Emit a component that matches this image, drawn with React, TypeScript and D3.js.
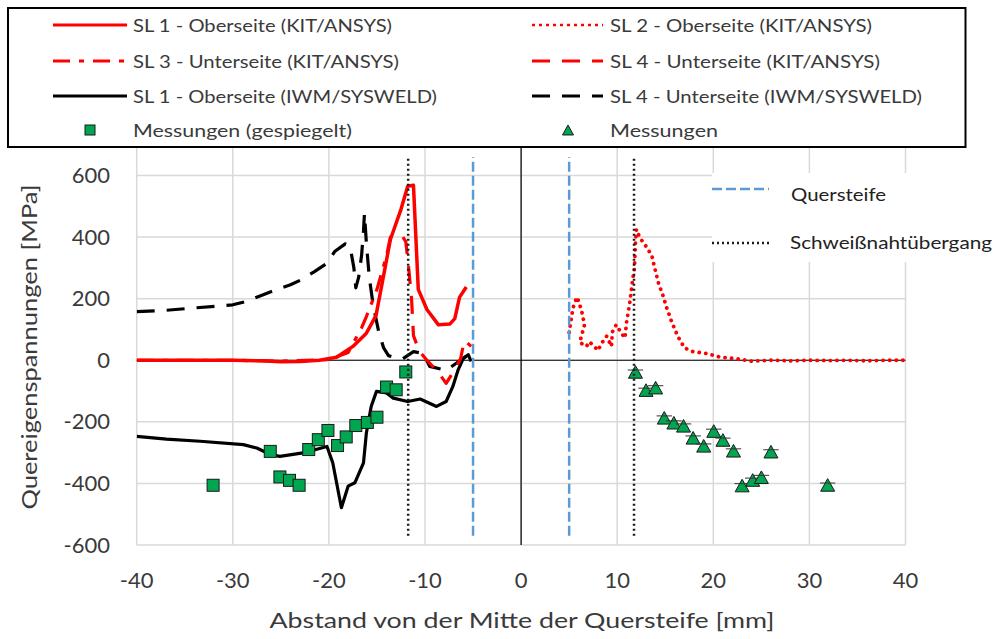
import React from "react";
import * as d3 from "d3";

type Pt = [number, number];

// x ticks [mm] and y ticks [MPa]
const xTickValues: number[] = [-40, -30, -20, -10, 0, 10, 20, 30, 40];
const yTickValues: number[] = [-600, -400, -200, 0, 200, 400, 600];

// SL 1 - Oberseite (KIT/ANSYS)
const sl1Kit: Pt[] = [
  [-40, 0], [-35, 0], [-30, 0], [-27, -2], [-25, -5], [-23, -4], [-21, 0],
  [-19.2, 10], [-17.5, 45], [-16.1, 88], [-15.1, 145], [-14.4, 260], [-13.6, 392],
  [-12.5, 490], [-11.8, 565], [-11.2, 568], [-10.7, 230], [-9.8, 165], [-8.6, 115],
  [-7.4, 118], [-6.9, 135], [-6.4, 205], [-5.7, 238],
];

// SL 2 - Oberseite (KIT/ANSYS)
const sl2Kit: Pt[] = [
  [5.0, 90], [5.15, 120], [5.4, 170], [5.8, 205], [6.0, 190], [6.3, 160], [6.6, 115],
  [6.1, 58], [6.8, 45], [7.1, 60], [7.6, 45], [8.0, 32], [8.4, 56], [8.9, 78],
  [9.4, 45], [9.5, 92], [9.9, 115], [10.4, 90], [10.8, 72], [11.0, 130], [11.3, 185],
  [11.6, 260], [11.8, 300], [11.9, 380], [12.0, 425], [12.35, 398], [12.9, 375],
  [13.4, 350], [13.6, 340], [13.9, 300], [14.3, 250], [14.8, 207], [15.1, 175],
  [15.65, 126], [16.3, 78], [17.0, 40], [17.9, 28], [19.3, 22], [20.7, 10], [22.4, 5],
  [24, -3], [26, 0], [28, -2], [30, 0], [32, -1], [34, 0], [36, -2], [38, 0], [40, 0],
];

// SL 3 - Unterseite (KIT/ANSYS)
const sl3Kit: Pt[] = [
  [-40, 0], [-30, 0], [-25, -3], [-20, 2], [-18, 25], [-16.6, 105], [-16.1, 142],
  [-15, 230], [-14, 340], [-13.6, 400], [-12.6, 402],
];

// SL 4 - Unterseite (KIT/ANSYS)
const sl4Kit: Pt[] = [
  [-12.3, 400], [-12.0, 385], [-11.7, 300], [-11.4, 200], [-11.2, 80], [-10.6, 30],
  [-9.8, 0], [-8.6, -40], [-7.8, -75], [-7.0, -35], [-6.3, 5], [-5.9, 65], [-5.2, 45],
];

// SL 1 - Oberseite (IWM/SYSWELD)
const sl1Iwm: Pt[] = [
  [-40, -247], [-36.9, -256], [-33.4, -263], [-28.9, -274], [-27.5, -285], [-26.1, -306],
  [-25.1, -312], [-22.7, -301], [-20.2, -280], [-19.6, -333], [-18.7, -479], [-18.0, -409],
  [-17.3, -398], [-16.4, -333], [-16.1, -236], [-15.6, -150], [-15.05, -101], [-14.0, -106],
  [-13.3, -123], [-11.8, -134], [-10.5, -126], [-8.8, -150], [-7.8, -134], [-7.1, -85],
  [-6.55, -31], [-6.0, 7], [-5.5, 18], [-5.2, -4],
];

// SL 4 - Unterseite (IWM/SYSWELD)
const sl4Iwm: Pt[] = [
  [-40, 158], [-37, 162], [-34, 170], [-31.5, 176], [-30, 180], [-28.6, 191],
  [-26.9, 212], [-25.6, 228], [-24, 245], [-22.9, 261], [-21.5, 288], [-20.2, 315],
  [-19.4, 353], [-18.3, 378], [-17.8, 370], [-17.4, 300], [-17.2, 235], [-16.9, 270],
  [-16.6, 340], [-16.4, 420], [-16.3, 477], [-16.1, 380], [-15.8, 270], [-15.4, 180],
  [-14.8, 90], [-14.3, 40], [-13.8, 15], [-13.0, 8], [-12.3, 5], [-11.2, 28], [-10.2, 22],
  [-9.5, -20], [-7.8, -33], [-6.3, 0], [-5.6, 15], [-5.0, 0],
];

// Messungen (gespiegelt)
const measMirroredX: number[] = [-32.05, -26.1, -25.1, -24.1, -23.1, -22.1, -21.1, -20.1, -19.1, -18.2, -17.2, -16.0, -15.0, -14.0, -13.0, -12.0];
const measMirroredY: number[] = [-406, -296, -379, -390, -406, -290, -258, -228, -277, -249, -212, -202, -185, -87, -96, -38];

// Messungen
const measX: number[] = [11.9, 13.0, 14.0, 14.9, 15.9, 16.9, 17.9, 19.0, 20.05, 21.0, 22.1, 23.0, 24.1, 25.0, 26.0, 31.9];
const measY: number[] = [-42, -101, -93, -191, -207, -217, -256, -282, -234, -263, -298, -411, -393, -384, -301, -409];

// Quersteife and Schweißnahtübergang positions [mm]
const quersteifeX: number[] = [-5, 5];
const nahtX: number[] = [-11.75, 11.75];
const refLineY: [number, number] = [-570, 660];

const FONT = "Lato, 'Open Sans', sans-serif";
const TEXT = "#3a3a3a";
const RED = "#ff0000";
const GREEN = "#00a650";
const BLUE = "#5b9bd5";

const x = d3.scaleLinear().domain([-40, 40]).range([136.7, 905.5]);
const y = d3.scaleLinear().domain([-600, 700]).range([545, 144.7]);

const line = d3.line<Pt>().x((d) => x(d[0])).y((d) => y(d[1]));

const zip = (xs: number[], ys: number[]): Pt[] => xs.map((v, i) => [v, ys[i]]);

function Triangle({ cx, cy, s, bar }: { cx: number; cy: number; s: number; bar?: boolean }) {
  const h = s * 0.9;
  return (
    <g>
      <path
        d={`M${cx},${cy - h * 0.6} L${cx + s / 2},${cy + h * 0.4} L${cx - s / 2},${cy + h * 0.4} Z`}
        fill={GREEN}
        stroke="#1a1a1a"
        strokeWidth={1}
      />
      {bar && <line x1={cx - s * 0.55} x2={cx + s * 0.55} y1={cy - h * 0.25} y2={cy - h * 0.25} stroke="#333" strokeWidth={1} />}
    </g>
  );
}

const legendLeft = [
  { label: "SL 1 - Oberseite (KIT/ANSYS)", len: 259, stroke: RED, dash: undefined as string | undefined, kind: "line" },
  { label: "SL 3 - Unterseite (KIT/ANSYS)", len: 266, stroke: RED, dash: "17 9 5 9", kind: "line" },
  { label: "SL 1 - Oberseite (IWM/SYSWELD)", len: 304, stroke: "#000", dash: undefined, kind: "line" },
  { label: "Messungen (gespiegelt)", len: 219, stroke: "", dash: undefined, kind: "square" },
];
const legendRight = [
  { label: "SL 2 - Oberseite (KIT/ANSYS)", len: 262, stroke: RED, dash: "3 4", kind: "line" },
  { label: "SL 4 - Unterseite (KIT/ANSYS)", len: 270, stroke: RED, dash: "18 12", kind: "line" },
  { label: "SL 4 - Unterseite (IWM/SYSWELD)", len: 312, stroke: "#000", dash: "18 12", kind: "line" },
  { label: "Messungen", len: 108, stroke: "", dash: undefined, kind: "triangle" },
];
const legendRows = [25, 61, 96, 130];

export default function App() {
  const [x0, x1] = x.range();
  const [yb, yt] = y.range();
  return (
    <svg
      width={997}
      height={639}
      style={{ position: "absolute", left: 0, top: 0, background: "#fff" }}
      fontFamily={FONT}
    >
      <defs>
        <clipPath id="plotClip">
          <rect x={x0} y={yt} width={x1 - x0} height={yb - yt} />
        </clipPath>
      </defs>
      <rect x={0} y={0} width={997} height={639} fill="#fff" />

      {/* gridlines */}
      {xTickValues.map((t) => (
        <line key={`gx${t}`} x1={x(t)} x2={x(t)} y1={yt} y2={yb} stroke="#d9d9d9" strokeWidth={1.5} />
      ))}
      {yTickValues.map((t) => (
        <line key={`gy${t}`} x1={x0} x2={x1} y1={y(t)} y2={y(t)} stroke="#d9d9d9" strokeWidth={1.5} />
      ))}

      {/* axes through zero */}
      <line x1={x0} x2={x1} y1={y(0)} y2={y(0)} stroke="#000" strokeWidth={1.2} />
      <line x1={x(0)} x2={x(0)} y1={yt} y2={yb} stroke="#000" strokeWidth={1.2} />

      {/* tick labels */}
      {yTickValues.map((t) => (
        <text key={`ty${t}`} x={110} y={y(t) + 7.5} textAnchor="end" fontSize={22} fill={TEXT}>
          {t}
        </text>
      ))}
      {xTickValues.map((t) => (
        <text key={`tx${t}`} x={x(t)} y={588} textAnchor="middle" fontSize={22} fill={TEXT}>
          {t}
        </text>
      ))}

      {/* axis titles */}
      <text x={522} y={628} textAnchor="middle" fontSize={22} fill={TEXT} textLength={505} lengthAdjust="spacingAndGlyphs">
        Abstand von der Mitte der Quersteife [mm]
      </text>
      <text
        transform="translate(37,347) rotate(-90)"
        textAnchor="middle"
        fontSize={22}
        fill={TEXT}
        textLength={325}
        lengthAdjust="spacingAndGlyphs"
      >
        Quereigenspannungen [MPa]
      </text>

      <g clipPath="url(#plotClip)" fill="none" strokeLinejoin="round">
        <path d={line(sl4Iwm) ?? ""} stroke="#000" strokeWidth={3.2} strokeDasharray="18 12" />
        <path d={line(sl1Iwm) ?? ""} stroke="#000" strokeWidth={3.2} />
        <path d={line(sl3Kit) ?? ""} stroke={RED} strokeWidth={3.2} strokeDasharray="17 9 5 9" />
        <path d={line(sl4Kit) ?? ""} stroke={RED} strokeWidth={3.2} strokeDasharray="18 12" />
        <path d={line(sl2Kit) ?? ""} stroke={RED} strokeWidth={3.8} strokeDasharray="0.1 6.5" strokeLinecap="round" />
        <path d={line(sl1Kit) ?? ""} stroke={RED} strokeWidth={3.5} />
      </g>

      {/* measurements */}
      {zip(measMirroredX, measMirroredY).map((d, i) => (
        <rect key={`sq${i}`} x={x(d[0]) - 6} y={y(d[1]) - 6} width={12} height={12} fill={GREEN} stroke="#1a1a1a" strokeWidth={1} />
      ))}
      {zip(measX, measY).map((d, i) => (
        <Triangle key={`tr${i}`} cx={x(d[0])} cy={y(d[1])} s={14} bar />
      ))}

      {/* reference lines */}
      {quersteifeX.map((v) => (
        <line key={`q${v}`} x1={x(v)} x2={x(v)} y1={y(refLineY[0])} y2={y(refLineY[1])} stroke={BLUE} strokeWidth={2.5} strokeDasharray="10 4" />
      ))}
      {nahtX.map((v) => (
        <line key={`n${v}`} x1={x(v)} x2={x(v)} y1={y(refLineY[0])} y2={y(refLineY[1])} stroke="#1a1a1a" strokeWidth={2.5} strokeDasharray="2 3" />
      ))}

      {/* reference line legend */}
      <rect x={712} y={173} width={285} height={89} fill="#fff" />
      <line x1={712} x2={769} y1={189} y2={189} stroke={BLUE} strokeWidth={2.5} strokeDasharray="10 4" />
      <text x={791} y={201} fontSize={18} fill="#222" textLength={95} lengthAdjust="spacingAndGlyphs">Quersteife</text>
      <line x1={712} x2={769} y1={243} y2={243} stroke="#1a1a1a" strokeWidth={2.5} strokeDasharray="2 3" />
      <text x={790} y={249} fontSize={18} fill="#222" textLength={202} lengthAdjust="spacingAndGlyphs">Schweißnahtübergang</text>

      {/* series legend */}
      <rect x={8} y={8} width={957.5} height={139} fill="#fff" stroke="#000" strokeWidth={2} />
      {legendLeft.map((e, i) => (
        <g key={`ll${i}`}>
          {e.kind === "line" && (
            <line x1={53} x2={127} y1={legendRows[i]} y2={legendRows[i]} stroke={e.stroke} strokeWidth={3.2} strokeDasharray={e.dash} />
          )}
          {e.kind === "square" && (
            <rect x={85} y={legendRows[i] - 5} width={10} height={10} fill={GREEN} stroke="#1a1a1a" strokeWidth={1} />
          )}
          <text x={133} y={legendRows[i] + 6.5} fontSize={18} fill={TEXT} textLength={e.len} lengthAdjust="spacingAndGlyphs">
            {e.label}
          </text>
        </g>
      ))}
      {legendRight.map((e, i) => (
        <g key={`lr${i}`}>
          {e.kind === "line" && (
            <line
              x1={532}
              x2={603}
              y1={legendRows[i]}
              y2={legendRows[i]}
              stroke={e.stroke}
              strokeWidth={e.dash === "3 4" ? 2.5 : 3.2}
              strokeDasharray={e.dash}
            />
          )}
          {e.kind === "triangle" && <Triangle cx={568} cy={legendRows[i] + 1} s={11} />}
          <text x={610} y={legendRows[i] + 6.5} fontSize={18} fill={TEXT} textLength={e.len} lengthAdjust="spacingAndGlyphs">
            {e.label}
          </text>
        </g>
      ))}
    </svg>
  );
}
